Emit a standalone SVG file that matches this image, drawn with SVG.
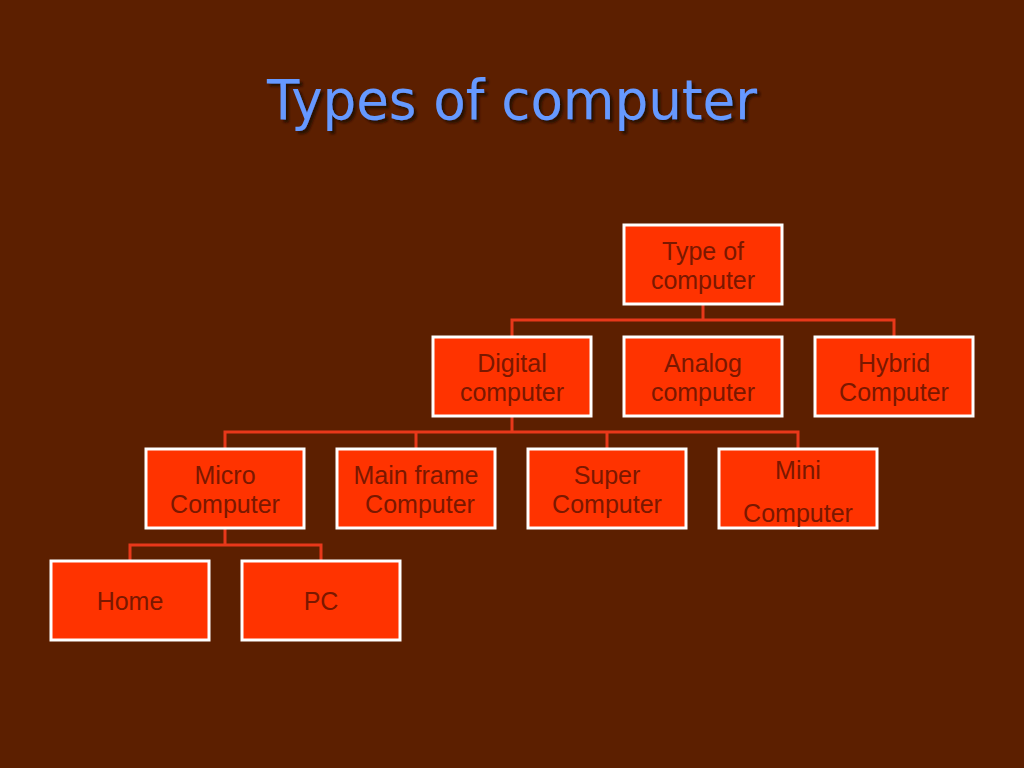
<svg xmlns="http://www.w3.org/2000/svg" width="1024" height="768" viewBox="0 0 1024 768">
<defs><filter id="sh" x="-5%" y="-20%" width="110%" height="140%"><feDropShadow dx="3" dy="3" stdDeviation="1" flood-color="#200800" flood-opacity="0.9"/></filter></defs>
<style>
.b{fill:#FF3300;stroke:#fff;stroke-width:3}
.t{font-family:"Liberation Sans",Arial,sans-serif;font-size:25px;fill:#7A1800;text-anchor:middle}
.c{stroke:#E8381A;stroke-width:3;fill:none}
.h{font-family:"DejaVu Sans",Verdana,sans-serif;font-size:56px;text-anchor:middle}
</style>
<rect width="1024" height="768" fill="#5C1F00"/>
<text class="h" x="512" y="119" fill="#6699FF" filter="url(#sh)" textLength="490" lengthAdjust="spacingAndGlyphs">Types of computer</text>
<g id="connectors">
<path class="c" d="M703 304V320M512 337V320H894V337"/>
<path class="c" d="M512 416V432M225 449V432H798V449M416 432V449M607 432V449"/>
<path class="c" d="M225 528V545M130 561V545H321V561"/>
</g>
<g id="root"><rect class="b" x="624" y="225" width="158" height="79"/><text class="t" x="703" y="260">Type of</text><text class="t" x="703" y="289">computer</text></g>
<g id="digital"><rect class="b" x="433" y="337" width="158" height="79"/><text class="t" x="512" y="372">Digital</text><text class="t" x="512" y="401">computer</text></g>
<g id="analog"><rect class="b" x="624" y="337" width="158" height="79"/><text class="t" x="703" y="372">Analog</text><text class="t" x="703" y="401">computer</text></g>
<g id="hybrid"><rect class="b" x="815" y="337" width="158" height="79"/><text class="t" x="894" y="372">Hybrid</text><text class="t" x="894" y="401">Computer</text></g>
<g id="micro"><rect class="b" x="146" y="449" width="158" height="79"/><text class="t" x="225" y="484">Micro</text><text class="t" x="225" y="513">Computer</text></g>
<g id="mainframe"><rect class="b" x="337" y="449" width="158" height="79"/><text class="t" x="416" y="484">Main frame</text><text class="t" x="420" y="513">Computer</text></g>
<g id="super"><rect class="b" x="528" y="449" width="158" height="79"/><text class="t" x="607" y="484">Super</text><text class="t" x="607" y="513">Computer</text></g>
<g id="mini"><rect class="b" x="719" y="449" width="158" height="79"/><text class="t" x="798" y="479">Mini</text><text class="t" x="798" y="522">Computer</text></g>
<g id="home"><rect class="b" x="51" y="561" width="158" height="79"/><text class="t" x="130" y="610">Home</text></g>
<g id="pc"><rect class="b" x="242" y="561" width="158" height="79"/><text class="t" x="321" y="610">PC</text></g>
</svg>
